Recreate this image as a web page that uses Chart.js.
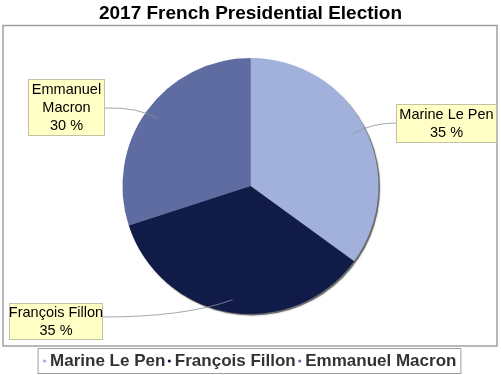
<!DOCTYPE html>
<html lang="fr">
<head>
<meta charset="UTF-8">
<title>2017 French Presidential Election</title>
<style>
    body { margin: 0; padding: 0; background: #ffffff; }
    #chart { display: block; }
</style>
</head>
<body>
<canvas id="chart" width="501" height="375"></canvas>
<script src="https://cdn.jsdelivr.net/npm/chart.js"></script>
<script>
// data
const candidates = ["Marine Le Pen", "François Fillon", "Emmanuel Macron"];
const shares = [35, 35, 30];
const sliceColors = ["#a2b0dc", "#111b47", "#5e6ca2"];

const FONT = '"Liberation Sans", Arial, sans-serif';

// yellow callout boxes: [x, y, w, h], where the leader line leaves the box, curve control point
const callouts = [
    { box: [396, 104, 101, 39], side: "left", lineY: 123, ctrl: [372, 123] },
    { box: [9, 303, 94, 37], side: "right", lineY: 317, ctrl: [185, 317] },
    { box: [28, 79, 77, 57], side: "right", lineY: 108, ctrl: [138, 107], wrap: true }
];

const decor = {
    id: "decor",
    beforeDatasetsDraw(chart) {
        const ctx = chart.ctx;
        ctx.save();
        // outer frame of the plot
        ctx.strokeStyle = "#a0a0a0";
        ctx.lineWidth = 1.5;
        ctx.strokeRect(3, 25.5, 494, 320.5);
        // soft shadow under the pie
        const a = chart.getDatasetMeta(0).data[0];
        ctx.beginPath();
        ctx.arc(a.x + 1.5, a.y + 1.5, a.outerRadius, 0, Math.PI * 2);
        ctx.shadowColor = "rgba(0,0,0,0.45)";
        ctx.shadowBlur = 2;
        ctx.fillStyle = "rgba(90,90,90,0.8)";
        ctx.fill();
        ctx.restore();
    },
    afterDraw(chart) {
        const ctx = chart.ctx;
        const meta = chart.getDatasetMeta(0);
        const total = shares.reduce((s, v) => s + v, 0);
        ctx.save();

        // callouts
        meta.data.forEach((arc, i) => {
            const c = callouts[i];
            const [bx, by, bw, bh] = c.box;
            const mid = (arc.startAngle + arc.endAngle) / 2;
            const ex = arc.x + Math.cos(mid) * arc.outerRadius * 0.9;
            const ey = arc.y + Math.sin(mid) * arc.outerRadius * 0.9;
            const sx = c.side === "left" ? bx : bx + bw;

            ctx.beginPath();
            ctx.moveTo(sx, c.lineY);
            ctx.quadraticCurveTo(c.ctrl[0], c.ctrl[1], ex, ey);
            ctx.strokeStyle = "#8a8fa0";
            ctx.lineWidth = 0.8;
            ctx.stroke();

            ctx.fillStyle = "#ffffc6";
            ctx.fillRect(bx, by, bw, bh);
            ctx.strokeStyle = "#c2c2a6";
            ctx.lineWidth = 1;
            ctx.strokeRect(bx + 0.5, by + 0.5, bw - 1, bh - 1);

            const lines = c.wrap ? candidates[i].split(" ") : [candidates[i]];
            lines.push(Math.round(shares[i] / total * 100) + " %");
            ctx.fillStyle = "#000000";
            ctx.font = "14.5px " + FONT;
            ctx.textAlign = "center";
            ctx.textBaseline = "middle";
            const cx = bx + bw / 2;
            let y = by + bh / 2 - (lines.length - 1) * 9;
            lines.forEach(t => { ctx.fillText(t, cx, y); y += 18; });
        });

        // legend
        ctx.font = "bold 17px " + FONT;
        ctx.textAlign = "left";
        ctx.textBaseline = "middle";
        const gapDot = 4.5, gapItem = 3;
        let w = 0;
        candidates.forEach(t => { w += 2 + gapDot + ctx.measureText(t).width + gapItem; });
        w -= gapItem;
        let x = 250 - w / 2;
        const ly = 361;
        ctx.strokeStyle = "#a0a0a0";
        ctx.lineWidth = 1;
        ctx.strokeRect(x - 5.5, 348.5, w + 10, 25);
        candidates.forEach((t, i) => {
            ctx.beginPath();
            ctx.arc(x + 1, ly, 1.6, 0, Math.PI * 2);
            ctx.fillStyle = sliceColors[i];
            ctx.fill();
            x += 2 + gapDot;
            ctx.fillStyle = "#333333";
            ctx.fillText(t, x, ly);
            x += ctx.measureText(t).width + gapItem;
        });
        ctx.restore();
    }
};

new Chart(document.getElementById("chart"), {
    type: "pie",
    data: {
        labels: candidates,
        datasets: [{
            data: shares,
            backgroundColor: sliceColors,
            borderWidth: 0
        }]
    },
    options: {
        responsive: false,
        animation: false,
        layout: { padding: { top: 0, bottom: 61, left: 0, right: 0 } },
        plugins: {
            title: {
                display: true,
                text: "2017 French Presidential Election",
                color: "#000000",
                font: { family: FONT, size: 19, weight: "bold" },
                padding: { top: 2, bottom: 33.2 }
            },
            legend: { display: false },
            tooltip: { enabled: false }
        }
    },
    plugins: [decor]
});
</script>
</body>
</html>
